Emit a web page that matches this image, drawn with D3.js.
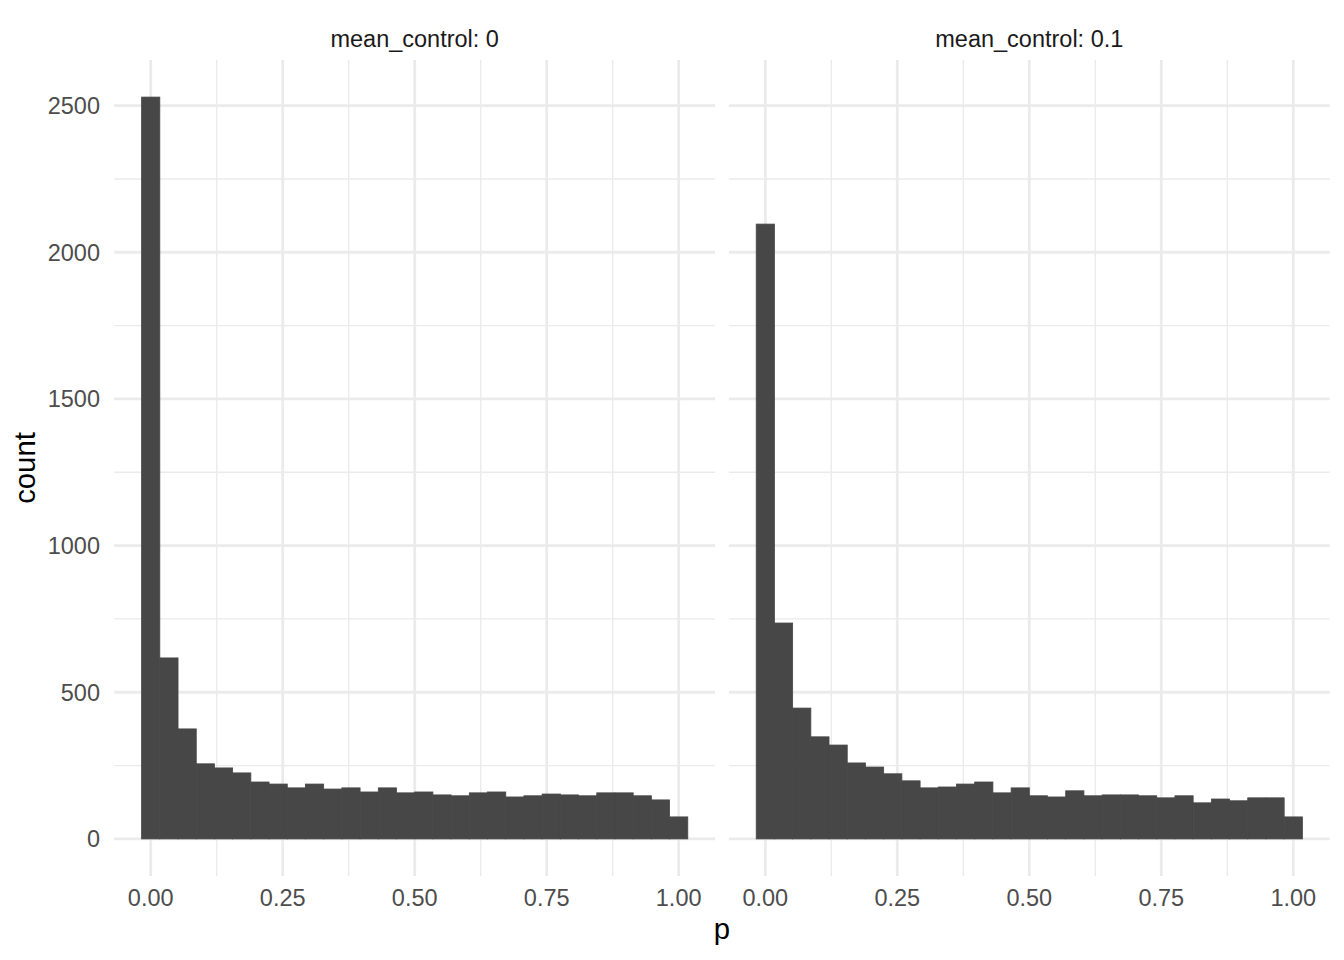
<!DOCTYPE html>
<html>
<head>
<meta charset="utf-8">
<script src="https://cdn.jsdelivr.net/npm/d3@7"></script>
<style>
  body { margin: 0; background: #fff; }
  svg text { font-family: "Liberation Sans", Arial, sans-serif; }
</style>
</head>
<body>
<div id="chart"></div>
<script>
// Histogram bins (30 bins, centres on 0..1)
const binCenters = [0.0000, 0.0345, 0.0690, 0.1034, 0.1379, 0.1724, 0.2069, 0.2414, 0.2759, 0.3103,
                    0.3448, 0.3793, 0.4138, 0.4483, 0.4828, 0.5172, 0.5517, 0.5862, 0.6207, 0.6552,
                    0.6897, 0.7241, 0.7586, 0.7931, 0.8276, 0.8621, 0.8966, 0.9310, 0.9655, 1.0000];
const binWidth = 0.0345;

const facets = ['mean_control: 0', 'mean_control: 0.1'];

const countsControl0 = [2529, 617, 375, 256, 242, 225, 194, 187, 174, 187,
                        170, 174, 160, 174, 157, 160, 150, 147, 157, 160,
                        143, 147, 153, 150, 147, 157, 157, 147, 133, 75];
const countsControl01 = [2096, 736, 446, 348, 320, 259, 245, 222, 198, 174,
                         177, 187, 194, 157, 174, 147, 143, 164, 147, 150,
                         150, 147, 140, 147, 123, 136, 130, 140, 140, 75];

const xTicks = [0, 0.25, 0.5, 0.75, 1];
const xTickLabels = ['0.00', '0.25', '0.50', '0.75', '1.00'];
const xMinor = [0.125, 0.375, 0.625, 0.875];
const yTicks = [0, 500, 1000, 1500, 2000, 2500];
const yMinor = [250, 750, 1250, 1750, 2250];

const W = 1344, H = 960;
const panelTop = 60, panelBottom = 876;
const panels = [
    { name: facets[0], counts: countsControl0, x0: 114.3, x1: 715.1 },
    { name: facets[1], counts: countsControl01, x0: 728.9, x1: 1329.7 }
];

const svg = d3.select('#chart').append('svg')
    .attr('width', W)
    .attr('height', H);

// shared y scale, ggplot-style 5% expansion
const yMax = d3.max(countsControl0.concat(countsControl01));
const y = d3.scaleLinear()
    .domain([-0.05 * yMax, 1.05 * yMax])
    .range([panelBottom, panelTop]);

const xLo = binCenters[0] - binWidth / 2;
const xHi = binCenters[binCenters.length - 1] + binWidth / 2;
const xPad = (xHi - xLo) * 0.05;

panels.forEach(p => {
    const x = d3.scaleLinear()
        .domain([xLo - xPad, xHi + xPad])
        .range([p.x0, p.x1]);

    const g = svg.append('g');

    // minor grid
    g.selectAll('.vminor').data(xMinor).enter().append('line')
        .attr('x1', d => x(d)).attr('x2', d => x(d))
        .attr('y1', panelTop).attr('y2', panelBottom)
        .attr('stroke', '#ebebeb').attr('stroke-width', 1.4);
    g.selectAll('.hminor').data(yMinor).enter().append('line')
        .attr('x1', p.x0).attr('x2', p.x1)
        .attr('y1', d => y(d)).attr('y2', d => y(d))
        .attr('stroke', '#ebebeb').attr('stroke-width', 1.4);

    // major grid
    g.selectAll('.vmajor').data(xTicks).enter().append('line')
        .attr('x1', d => x(d)).attr('x2', d => x(d))
        .attr('y1', panelTop).attr('y2', panelBottom)
        .attr('stroke', '#ebebeb').attr('stroke-width', 2.8);
    g.selectAll('.hmajor').data(yTicks).enter().append('line')
        .attr('x1', p.x0).attr('x2', p.x1)
        .attr('y1', d => y(d)).attr('y2', d => y(d))
        .attr('stroke', '#ebebeb').attr('stroke-width', 2.8);

    // bars
    g.selectAll('.bar').data(binCenters).enter().append('rect')
        .attr('x', d => x(d - binWidth / 2))
        .attr('width', d => x(d + binWidth / 2) - x(d - binWidth / 2))
        .attr('y', (d, i) => y(p.counts[i]))
        .attr('height', (d, i) => y(0) - y(p.counts[i]))
        .attr('fill', '#474747')
        .attr('stroke', '#474747')
        .attr('stroke-width', 0.8);

    // x tick labels
    g.selectAll('.xlab').data(xTicks).enter().append('text')
        .attr('x', d => x(d))
        .attr('y', 906)
        .attr('text-anchor', 'middle')
        .style('fill', '#4d4d4d')
        .style('font-size', '23.5px')
        .text((d, i) => xTickLabels[i]);

    // strip label
    g.append('text')
        .attr('x', (p.x0 + p.x1) / 2)
        .attr('y', 47)
        .attr('text-anchor', 'middle')
        .style('fill', '#1a1a1a')
        .style('font-size', '23.5px')
        .text(p.name);
});

// y tick labels (left panel only)
svg.selectAll('.ylab').data(yTicks).enter().append('text')
    .attr('x', 100)
    .attr('y', d => y(d))
    .attr('dy', '0.36em')
    .attr('text-anchor', 'end')
    .style('fill', '#4d4d4d')
    .style('font-size', '23.5px')
    .text(d => d);

// axis titles
svg.append('text')
    .attr('x', (panels[0].x0 + panels[1].x1) / 2)
    .attr('y', 939)
    .attr('text-anchor', 'middle')
    .style('fill', '#000')
    .style('font-size', '29.3px')
    .text('p');

svg.append('text')
    .attr('transform', `translate(35, ${(panelTop + panelBottom) / 2}) rotate(-90)`)
    .attr('text-anchor', 'middle')
    .style('fill', '#000')
    .style('font-size', '29.3px')
    .text('count');
</script>
</body>
</html>
